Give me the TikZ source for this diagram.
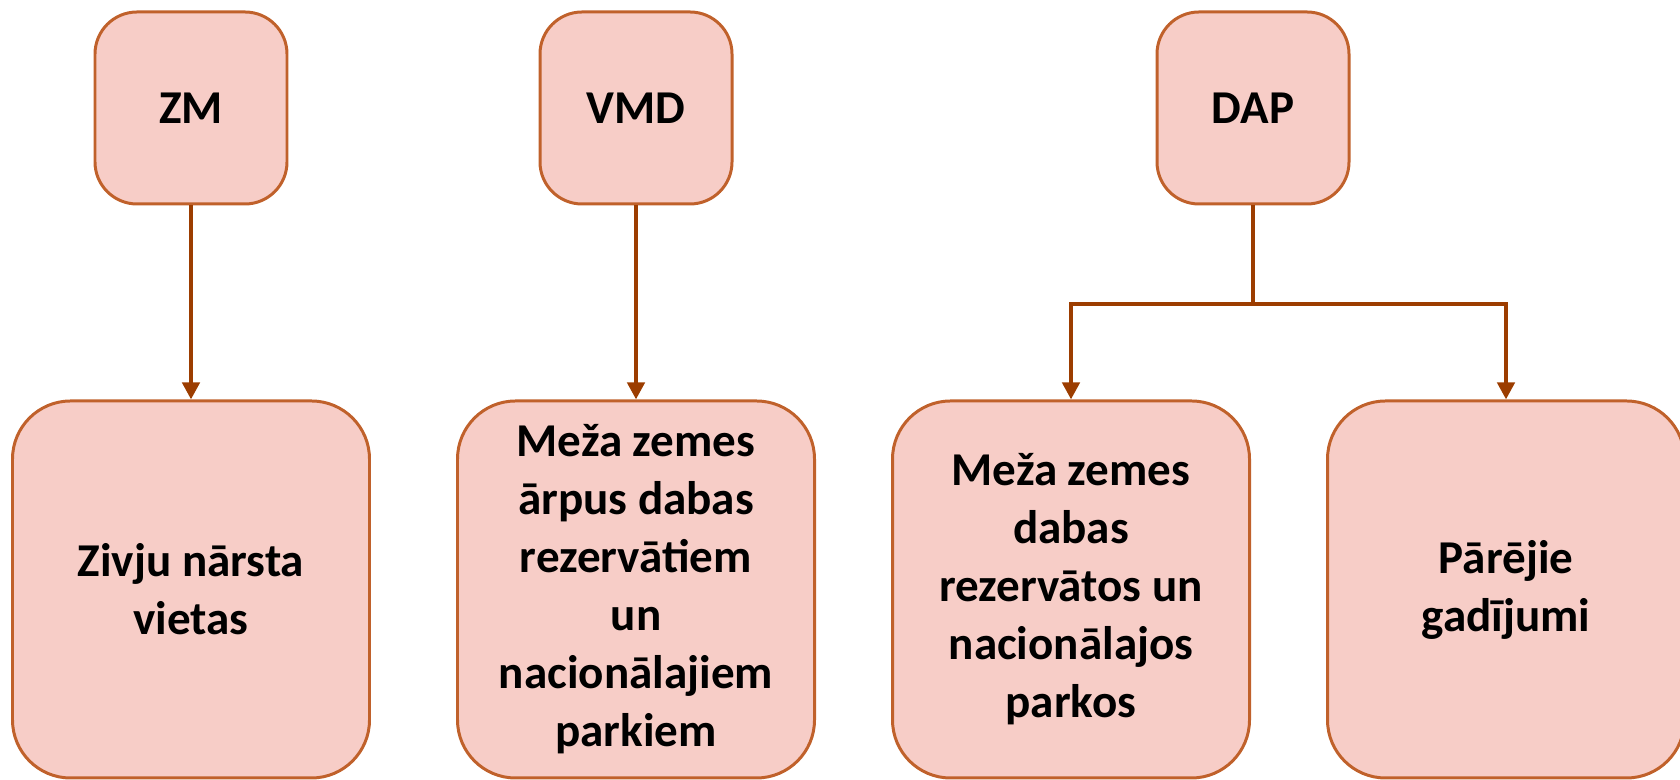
\documentclass[tikz,border=0pt]{standalone}
\usepackage{fontspec}
\setmainfont{Carlito}
\usetikzlibrary{arrows.meta}

\definecolor{boxfill}{HTML}{F7CDC7}
\definecolor{boxline}{HTML}{C0612B}
\definecolor{linkcol}{HTML}{9C3D00}

\begin{document}
\begin{tikzpicture}[
        topbox/.style={draw=boxline, fill=boxfill, line width=0.85pt, rounded corners=0.42cm,
            minimum width=1.92cm, minimum height=1.92cm, inner sep=0pt, align=center,
            font=\fontsize{13.4}{16.5}\selectfont\bfseries},
        leafbox/.style={topbox, rounded corners=0.58cm, minimum width=3.57cm, minimum height=3.77cm},
        link/.style={draw=linkcol, line width=1.4pt},
        arrow/.style={link, -{Triangle[length=0.17cm, width=0.17cm]}}
    ]
        \useasboundingbox (0,0) rectangle (16.8,7.8);
        \node [topbox] (zm) at (1.91,6.72) {ZM};
        \node [topbox] (vmd) at (6.36,6.72) {VMD};
        \node [topbox] (dap) at (12.53,6.72) {DAP};
        \node [leafbox] (narsta) at (1.91,1.905) {Zivju nārsta\\vietas};
        \node [leafbox] (arpus) at (6.36,1.905) {Meža zemes\\ārpus dabas\\rezervātiem\\un\\nacionālajiem\\parkiem};
        \node [leafbox] (rezervatos) at (10.71,1.905) {Meža zemes\\dabas\\rezervātos un\\nacionālajos\\parkos};
        \node [leafbox] (parejie) at (15.06,1.905) {Pārējie\\gadījumi};
        \coordinate (split) at (12.53,4.76);
        \draw [arrow] (zm) -- (narsta);
        \draw [arrow] (vmd) -- (arpus);
        \draw [link] (dap) -- (split);
        \draw [arrow] (split) -| (rezervatos);
        \draw [arrow] (split) -| (parejie);
    \end{tikzpicture}
\end{document}
